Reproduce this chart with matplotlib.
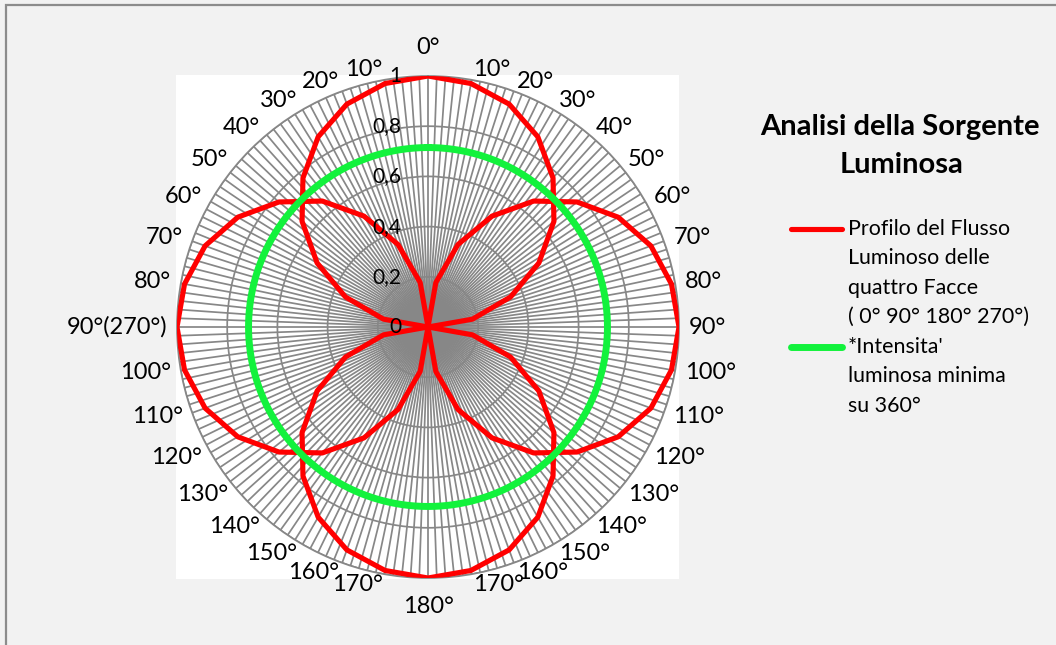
import matplotlib.pyplot as plt
import numpy as np
from matplotlib.patches import Rectangle
from matplotlib.lines import Line2D
from matplotlib.transforms import offset_copy

plt.rcParams['font.family'] = ['Lato', 'DejaVu Sans']

# radar categories, one every 2 degrees (the grey spokes)
category_deg = list(range(0, 360, 2))

# angle labels every 10 degrees, mirrored on the two sides
label_deg = list(range(0, 360, 10))
label_text = ['0°', '10°', '20°', '30°', '40°', '50°', '60°', '70°', '80°', '90°',
              '100°', '110°', '120°', '130°', '140°', '150°', '160°', '170°', '180°',
              '170°', '160°', '150°', '140°', '130°', '120°', '110°', '100°',
              '90°(270°)', '80°', '70°', '60°', '50°', '40°', '30°', '20°', '10°']

# luminous flux of one face, every 10° from -90° to +90° around the face direction
face_dirs = [0, 90, 180, 270]
lobe_offsets = [-90, -80, -70, -60, -50, -40, -30, -20, -10, 0,
                10, 20, 30, 40, 50, 60, 70, 80, 90]
lobe_values = [0.0, 0.18, 0.35, 0.51, 0.655, 0.775, 0.875, 0.945, 0.985, 1.0,
               0.985, 0.945, 0.875, 0.775, 0.655, 0.51, 0.35, 0.18, 0.0]

# minimum luminous intensity over 360°
min_intensity = [0.715] * len(category_deg)

radial_ticks = [0, 0.2, 0.4, 0.6, 0.8, 1.0]
radial_labels = ['0', '0,2', '0,4', '0,6', '0,8', '1']

RED = '#ff0000'
GREEN = '#12f23c'
GRID = '#878787'

W, H = 1056, 645
fig = plt.figure(figsize=(W / 100, H / 100), dpi=100, facecolor='#f2f2f2')

# chart border (right / bottom edges fall outside the picture)
fig.add_artist(Rectangle((6 / W, -0.1), 1.2, (H - 5) / H + 0.1, transform=fig.transFigure,
                         fill=False, ec='#8c8c8c', lw=1.6, zorder=0))
# white plot area
fig.add_artist(Rectangle((176 / W, 1 - 579 / H), (679 - 176) / W, (579 - 75) / H,
                         transform=fig.transFigure, fc='white', ec='none', zorder=0))

cx, cy, R = 428, 327, 251
ax = fig.add_axes([(cx - R) / W, (H - cy - R) / H, 2 * R / W, 2 * R / H], projection='polar')
ax.set_facecolor('none')
ax.set_theta_zero_location('N')
ax.set_theta_direction(-1)
ax.set_ylim(0, 1)
ax.set_axisbelow(True)

ax.set_xticks(np.deg2rad(category_deg))
ax.set_xticklabels([])
ax.set_yticks(radial_ticks[1:])
ax.set_yticklabels([])
ax.tick_params(length=0)
ax.grid(True, color=GRID, lw=1.25)
ax.spines['polar'].set_color(GRID)
ax.spines['polar'].set_linewidth(1.25)

for d in face_dirs:
    th = np.deg2rad([d + o for o in lobe_offsets])
    ax.plot(th, lobe_values, color=RED, lw=3.7, zorder=3)

th = np.deg2rad(category_deg + [360])
ax.plot(th, min_intensity + min_intensity[:1], color=GREEN, lw=5, zorder=4)

# angle labels around the circle
for deg, txt in zip(label_deg, label_text):
    a = np.deg2rad(deg)
    s, c = np.sin(a), np.cos(a)
    if abs(s) < 0.01:
        ha = 'center'
        va = 'bottom' if c > 0 else 'top'
        r = 1.07
    else:
        ha = 'left' if s > 0 else 'right'
        va = 'center'
        r = 1.04
    ax.text(a, r, txt, ha=ha, va=va, fontsize=17, color='black')

# radial value labels, left of the vertical axis
trans = offset_copy(ax.transData, fig=fig, x=-27, y=0, units='dots')
for v, lab in zip(radial_ticks, radial_labels):
    ax.text(0, v, lab, transform=trans, ha='right', va='center', fontsize=15, zorder=6)

# title
fig.text(900 / W, 1 - 127 / H, 'Analisi della Sorgente', ha='center', va='center',
         fontsize=21, fontweight='bold')
fig.text(902 / W, 1 - 165 / H, 'Luminosa', ha='center', va='center',
         fontsize=21, fontweight='bold')

# legend
legend_items = [
    (RED, 3.7, 229, ['Profilo del Flusso', 'Luminoso delle', 'quattro Facce',
                     '( 0° 90° 180° 270°)']),
    (GREEN, 5, 347, ["*Intensita'", 'luminosa minima', 'su 360°']),
]
for col, lw, y0, lines in legend_items:
    fig.add_artist(Line2D([791 / W, 842 / W], [1 - y0 / H] * 2, color=col, lw=lw,
                          solid_capstyle='round'))
    for i, ln in enumerate(lines):
        fig.text(848 / W, 1 - (y0 + i * 29.3) / H, ln, ha='left', va='center', fontsize=15.4)

fig.savefig('out.png', dpi=100, facecolor=fig.get_facecolor())
